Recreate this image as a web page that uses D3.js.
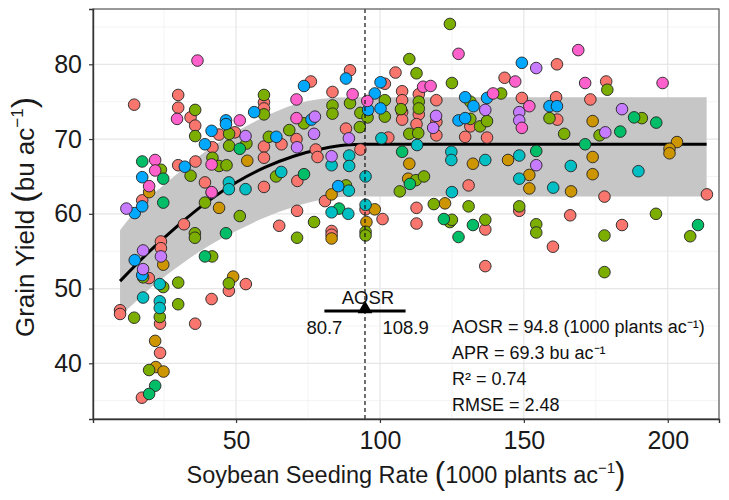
<!DOCTYPE html>
<html><head><meta charset="utf-8">
<script src="https://cdn.jsdelivr.net/npm/d3@7"></script>
<style>body{margin:0;background:#fff}svg{display:block}text{font-family:"Liberation Sans",Arial,sans-serif}</style>
</head><body><svg id="c" width="729" height="500"></svg>
<script>
const siteNames = ["Site 1","Site 2","Site 3","Site 4","Site 5","Site 6","Site 7","Site 8"];
const siteColors = ["#F8766D","#CD9600","#7CAE00","#00BE67","#00BFC4","#00A9FF","#C77CFF","#FF61CC"];
// [seeding rate, grain yield]
const site1 = [[14.6,74.6],[29.9,75.9],[29.9,74.2],[34.2,72.9],[35.8,71.8],[44.1,70.6],[49.6,70.9],[41.8,68.9],[59.7,74.9],[59.7,74.1],[59.7,69.0],[59.7,67.5],[29.9,66.5],[35.9,67.0],[17.4,61.8],[39.2,64.2],[59.7,63.6],[31.9,58.6],[23.9,56.3],[23.9,55.4],[19.7,51.4],[47.5,49.7],[53.4,50.6],[41.5,48.6],[9.7,47.1],[9.7,46.6],[23.6,45.3],[35.8,45.3],[23.6,41.4],[17.3,35.4],
 [89.6,79.2],[76.0,77.7],[105.4,78.9],[101.7,77.4],[83.5,76.3],[107.7,76.4],[113.5,76.0],[107.7,75.2],[107.7,73.6],[107.7,72.6],[113.5,73.3],[119.6,75.2],[119.6,72.3],[119.6,70.5],[112.7,72.0],[102.9,70.2],[71.0,70.0],[65.8,69.3],[88.2,71.4],[77.7,68.6],[78.3,67.6],[93.2,68.6],[71.3,64.4],[80.9,61.7],[71.2,60.4],[65.0,58.4],[83.2,57.7],[83.2,57.2],[95.0,60.6],[100.9,59.3],[112.7,60.8],[112.7,58.7],
 [161.5,80.0],[143.3,78.2],[178.6,77.7],[149.3,75.5],[161.2,75.6],[161.6,72.6],[173.1,75.3],[131.4,71.7],[129.6,70.3],[137.2,70.2],[130.8,63.8],[136.6,57.9],[178.0,62.3],[213.6,62.6],[148.4,60.4],[166.1,59.8],[184.1,58.5],[160.1,55.6],[136.6,53.0]];
const site2 = [[53.9,67.1],[19.8,62.9],[44.1,60.8],[24.7,53.2],[49.0,51.6],[21.9,43.0],[22.1,39.5],[24.8,38.9],[110.2,66.7],[109.8,64.7],[83.2,62.6],[98.2,60.6],[95.3,58.9],[83.2,56.7],[122.6,61.4],[173.9,72.4],[203.2,69.6],[200.6,68.7],[200.6,68.1],[132.3,66.7],[144.5,67.2],[173.9,67.6],[151.9,65.2],[151.9,63.4],[166.4,63.0],[173.9,65.3]];
const site3 = [[35.8,73.9],[35.8,70.4],[47.6,70.7],[47.6,69.1],[53.6,69.4],[41.8,67.5],[59.7,75.9],[59.7,73.3],[61.4,70.3],[23.9,65.9],[44.1,66.4],[46.7,66.5],[34.2,65.1],[39.2,61.5],[51.3,59.7],[35.7,57.4],[35.7,56.8],[41.7,54.3],[17.7,51.5],[24.7,50.2],[29.9,50.8],[47.5,50.7],[23.5,46.2],[29.9,47.9],[14.6,46.1],[19.8,39.1],
 [124.3,85.4],[110.2,80.7],[112.7,78.8],[125.0,77.5],[83.5,74.5],[83.5,73.4],[89.6,74.8],[93.2,73.5],[95.7,72.9],[101.7,75.2],[101.7,73.0],[107.3,74.0],[113.5,75.0],[113.5,74.1],[110.2,70.7],[113.3,70.8],[68.5,71.2],[73.6,72.1],[93.0,71.6],[63.9,65.0],[112.5,64.5],[115.3,65.0],[106.9,63.0],[88.2,63.8],[77.1,58.9],[71.2,56.8],[95.0,57.6],[95.0,57.1],[118.7,61.3],[124.3,58.9],
 [179.0,76.6],[142.1,76.1],[131.4,75.0],[158.9,72.8],[191.0,72.8],[176.3,70.5],[164.0,70.7],[131.4,72.7],[134.8,71.7],[137.2,72.4],[130.8,61.0],[125.0,59.2],[136.6,59.2],[148.4,61.0],[195.9,60.0],[154.3,58.6],[154.3,57.5],[207.8,57.0],[178.0,57.1],[178.0,52.2]];
const site4 = [[51.3,68.7],[17.4,67.0],[24.7,64.7],[24.7,61.5],[46.5,57.4],[39.2,54.3],[21.9,37.0],[19.8,35.9],[107.7,68.3],[73.6,65.3],[110.4,64.0],[85.8,60.7],[122.2,59.3],[188.3,72.9],[196.0,72.2],[183.5,71.0],[171.3,69.3],[154.3,68.4],[132.3,58.5],[127.3,56.9],[210.5,58.5]];
const site5 = [[47.5,64.2],[47.5,63.3],[53.3,63.3],[23.5,50.6],[17.7,48.8],[23.5,48.3],[23.5,47.4],[100.5,70.1],[83.2,66.5],[89.3,67.8],[89.3,66.4],[112.9,69.2],[124.8,68.3],[124.8,67.2],[65.7,65.6],[95.0,65.0],[89.2,63.1],[83.2,60.2],[89.0,60.0],[95.0,61.2],[125.0,62.9],[136.6,67.2],[148.4,67.8],[166.3,66.4],[189.8,65.7],[148.4,64.7],[160.2,63.5]];
const site6 = [[41.5,71.1],[46.5,72.5],[46.5,72.0],[39.2,69.3],[56.3,73.6],[32.2,66.3],[17.4,64.9],[14.8,60.1],[17.4,61.0],[14.8,53.8],[17.4,51.8],[88.2,78.1],[73.6,77.1],[100.2,77.6],[98.2,76.1],[95.9,73.9],[100.2,74.1],[76.2,72.6],[64.0,70.3],[85.5,63.7],[149.3,80.2],[129.6,75.6],[132.5,74.4],[137.2,75.5],[158.9,74.4],[161.5,74.4],[127.3,72.5],[129.6,72.8]];
const site7 = [[53.3,70.4],[11.9,60.7],[17.7,55.1],[23.9,54.3],[17.7,52.6],[41.6,62.8],[77.4,73.0],[119.5,73.1],[118.5,71.5],[71.2,68.9],[77.1,70.7],[89.2,70.1],[83.2,67.7],[154.3,79.5],[136.6,73.9],[148.4,73.6],[148.4,72.5],[184.1,74.0],[178.3,70.9],[154.3,66.5]];
const site8 = [[36.6,80.5],[29.5,72.7],[51.3,72.5],[21.9,67.2],[21.9,65.8],[41.5,66.6],[19.8,63.7],[41.5,62.9],[71.0,75.3],[90.5,76.0],[115.0,77.0],[117.6,77.1],[95.6,75.1],[71.0,72.8],[127.3,81.4],[168.9,81.9],[147.0,77.7],[171.3,77.5],[198.2,77.5],[139.3,76.1],[151.9,74.4],[149.3,71.5]];
const sites = [site1,site2,site3,site4,site5,site6,site7,site8];

// fitted quadratic-plateau line and its band
const fitX = [9.7, 20, 30, 40, 50, 60, 70, 80, 88, 94.8, 213.5];
const fitY = [51.0, 55.0, 58.5, 61.6, 64.2, 66.2, 67.7, 68.7, 69.2, 69.3, 69.3];
const bandX = [9.7, 15, 20, 30, 40, 50, 60, 70, 80, 90, 213.5];
const bandHigh = [57.8, 60.3, 62.2, 65.5, 68.5, 71.0, 73.0, 74.6, 75.4, 75.6, 75.6];
const bandLow = [46.3, 48.2, 50.0, 53.0, 55.6, 57.7, 59.5, 60.9, 61.9, 62.3, 62.3];

const xTicks = [50, 100, 150, 200], xMinor = [25, 75, 125, 175];
const yTicks = [40, 50, 60, 70, 80], yMinor = [35, 45, 55, 65, 75, 85];
const aosr = 94.8, aosrLow = 80.7, aosrHigh = 108.9, aosrY = 47.0;
const statLines = ["AOSR = 94.8 (1000 plants ac\u207B\u00B9)", "APR = 69.3 bu ac\u207B\u00B9", "R\u00B2 = 0.74", "RMSE = 2.48"];

const svg = d3.select("#c");
const L = 93, R = 719, T = 9, B = 419;
const x = d3.scaleLinear().domain([0.3, 217.8]).range([L, R]);
const y = d3.scaleLinear().domain([32.55, 87.4]).range([B, T]);

const g = svg.append("g");
// grid
g.selectAll(".xm").data(xMinor).enter().append("line").attr("x1",d=>x(d)).attr("x2",d=>x(d)).attr("y1",T).attr("y2",B).attr("stroke","#f0f0f0").attr("stroke-width",0.8);
g.selectAll(".ym").data(yMinor).enter().append("line").attr("y1",d=>y(d)).attr("y2",d=>y(d)).attr("x1",L).attr("x2",R).attr("stroke","#f0f0f0").attr("stroke-width",0.8);
g.selectAll(".xg").data(xTicks).enter().append("line").attr("x1",d=>x(d)).attr("x2",d=>x(d)).attr("y1",T).attr("y2",B).attr("stroke","#e6e6e6").attr("stroke-width",1.2);
g.selectAll(".yg").data(yTicks).enter().append("line").attr("y1",d=>y(d)).attr("y2",d=>y(d)).attr("x1",L).attr("x2",R).attr("stroke","#e6e6e6").attr("stroke-width",1.2);

// band
const bandData = bandX.map((v,i)=>({x:v, lo:bandLow[i], hi:bandHigh[i]}));
g.append("path").datum(bandData)
 .attr("d", d3.area().x(d=>x(d.x)).y0(d=>y(d.lo)).y1(d=>y(d.hi)).curve(d3.curveMonotoneX))
 .attr("fill","#c6c6c6");

// fitted line
const fitData = fitX.map((v,i)=>[v, fitY[i]]);
g.append("path").datum(fitData)
 .attr("d", d3.line().x(d=>x(d[0])).y(d=>y(d[1])).curve(d3.curveMonotoneX))
 .attr("fill","none").attr("stroke","#000").attr("stroke-width",3);

// points
sites.forEach((s,i)=>{
  g.selectAll(null).data(s).enter().append("circle")
   .attr("cx",d=>x(d[0])).attr("cy",d=>y(d[1])).attr("r",5.8)
   .attr("fill",siteColors[i]).attr("stroke","#222").attr("stroke-width",0.9)
   .append("title").text(siteNames[i]);
});

// AOSR dashed line
g.append("line").attr("x1",x(aosr)).attr("x2",x(aosr)).attr("y1",T).attr("y2",B)
 .attr("stroke","#111").attr("stroke-width",1.2).attr("stroke-dasharray","4,3");

// AOSR interval
g.append("line").attr("x1",x(aosrLow)).attr("x2",x(aosrHigh)).attr("y1",y(aosrY)).attr("y2",y(aosrY))
 .attr("stroke","#000").attr("stroke-width",3);
g.append("path").attr("d", d3.symbol().type(d3.symbolTriangle).size(95)())
 .attr("transform",`translate(${x(aosr)},${y(aosrY)-2})`).attr("fill","#000");
g.append("text").attr("x",x(aosr)+3).attr("y",y(aosrY)-7).attr("text-anchor","middle").attr("font-size",18.5).attr("fill","#111").text("AOSR");
g.append("text").attr("x",x(aosrLow)).attr("y",y(aosrY)+23).attr("text-anchor","middle").attr("font-size",18.5).attr("fill","#111").text(aosrLow.toFixed(1));
g.append("text").attr("x",x(aosrHigh)).attr("y",y(aosrY)+23).attr("text-anchor","middle").attr("font-size",18.5).attr("fill","#111").text(aosrHigh.toFixed(1));

// stats
g.selectAll(".st").data(statLines).enter().append("text")
 .attr("x",452).attr("y",(d,i)=>333+i*26).attr("font-size",18).attr("fill","#111").text(d=>d);

// panel border
g.append("rect").attr("x",L).attr("y",T).attr("width",R-L).attr("height",B-T).attr("fill","none").attr("stroke","#555").attr("stroke-width",1.2);

// axes
const xa = svg.append("g").attr("transform",`translate(0,${B})`).call(d3.axisBottom(x).tickValues(xTicks).tickSize(4).tickPadding(8).tickFormat(d3.format("d")));
const ya = svg.append("g").attr("transform",`translate(${L},0)`).call(d3.axisLeft(y).tickValues(yTicks).tickSize(4).tickPadding(7).tickFormat(d3.format("d")));
[xa,ya].forEach(a=>{
  a.select(".domain").attr("stroke","#333").attr("stroke-width",1.4);
  a.selectAll(".tick line").attr("stroke","#333").attr("stroke-width",1.2);
  a.selectAll(".tick text").attr("font-size",25).attr("fill","#1a1a1a").attr("font-family","Liberation Sans, Arial, sans-serif");
});

// axis titles
const xt = svg.append("text").attr("x",(L+R)/2).attr("y",483).attr("text-anchor","middle").attr("font-size",23.5).attr("fill","#1a1a1a");
xt.append("tspan").text("Soybean Seeding Rate ");
xt.append("tspan").attr("font-size",31).attr("dy",1).text("(");
xt.append("tspan").attr("dy",-1).text("1000 plants ac");
xt.append("tspan").attr("font-size",15).attr("dy",-10).text("\u22121");
xt.append("tspan").attr("font-size",31).attr("dy",11).text(")");

const yt = svg.append("text").attr("transform",`translate(34,${(T+B)/2+3}) rotate(-90)`).attr("text-anchor","middle").attr("font-size",26).attr("fill","#1a1a1a");
yt.append("tspan").text("Grain Yield ");
yt.append("tspan").attr("font-size",34).attr("dy",1).text("(");
yt.append("tspan").attr("dy",-1).text("bu ac");
yt.append("tspan").attr("font-size",17).attr("dy",-11).text("\u22121");
yt.append("tspan").attr("font-size",34).attr("dy",12).text(")");
</script></body></html>
